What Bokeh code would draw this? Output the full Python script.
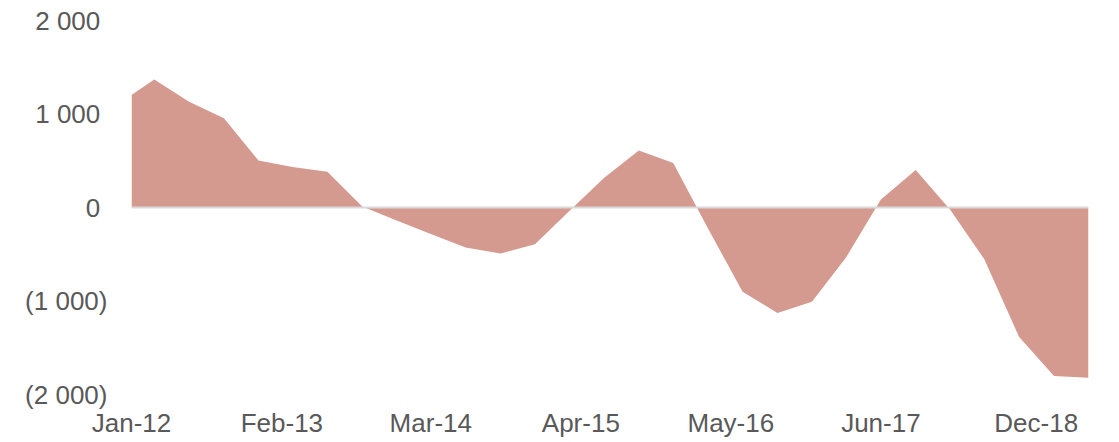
import pandas as pd
from bokeh.plotting import figure
from bokeh.models import Range1d, FixedTicker, Span
from bokeh.embed import file_html
from bokeh.resources import INLINE

# Quarterly observations (first of month)
dates = ["2012-01-01", "2012-03-01", "2012-06-01", "2012-09-01", "2012-12-01",
         "2013-03-01", "2013-06-01", "2013-09-01", "2013-12-01",
         "2014-03-01", "2014-06-01", "2014-09-01", "2014-12-01",
         "2015-03-01", "2015-06-01", "2015-09-01", "2015-12-01",
         "2016-03-01", "2016-06-01", "2016-09-01", "2016-12-01",
         "2017-03-01", "2017-06-01", "2017-09-01", "2017-12-01",
         "2018-03-01", "2018-06-01", "2018-09-01", "2018-12-01"]
values = [1202, 1369, 1131, 954, 503,
          433, 383, 10, -138,
          -284, -429, -493, -394,
          -40, 316, 610, 476,
          -220, -901, -1128, -1007,
          -535, 85, 400, -25,
          -553, -1386, -1801, -1822]

x_tick_dates = ["2012-01-01", "2013-02-01", "2014-03-01", "2015-04-01",
                "2016-05-01", "2017-06-01", "2018-07-16"]
x_tick_labels = ["Jan-12", "Feb-13", "Mar-14", "Apr-15", "May-16", "Jun-17", "Dec-18"]
y_ticks = [-2000, -1000, 0, 1000, 2000]
y_tick_labels = ["(2 000)", "(1 000)", "0\u00a0", "1 000\u00a0", "2 000\u00a0"]

x = pd.to_datetime(dates)
xt = [float(v) for v in (pd.to_datetime(x_tick_dates).astype("int64") // 10**6)]

p = figure(width=1111, height=440, x_axis_type="datetime",
           output_backend="svg", toolbar_location=None,
           x_range=Range1d(x[0], x[-1]), y_range=Range1d(-2000, 2000),
           min_border_left=131, min_border_right=23,
           min_border_top=20, min_border_bottom=44)

p.varea(x=x, y1=0, y2=values, fill_color="#D49A8F", fill_alpha=1.0)
p.add_layout(Span(location=0, dimension="width", line_color="#D9D9D9", line_width=2))

p.outline_line_color = None
p.xgrid.visible = False
p.ygrid.visible = False

for ax in (p.xaxis[0], p.yaxis[0]):
    ax.axis_line_color = None
    ax.major_tick_line_color = None
    ax.minor_tick_line_color = None
    ax.major_tick_out = 0
    ax.major_tick_in = 0
    ax.minor_tick_out = 0
    ax.major_label_text_font = "Liberation Sans"
    ax.major_label_text_font_size = "26px"
    ax.major_label_text_color = "#595959"

p.xaxis.ticker = FixedTicker(ticks=xt)
p.xaxis.major_label_overrides = {t: l for t, l in zip(xt, x_tick_labels)}
p.xaxis.major_label_standoff = 13

p.yaxis.ticker = FixedTicker(ticks=y_ticks)
p.yaxis.major_label_overrides = {t: l for t, l in zip(y_ticks, y_tick_labels)}
p.yaxis.major_label_standoff = 24

open("out.html", "w").write(file_html(p, INLINE))
